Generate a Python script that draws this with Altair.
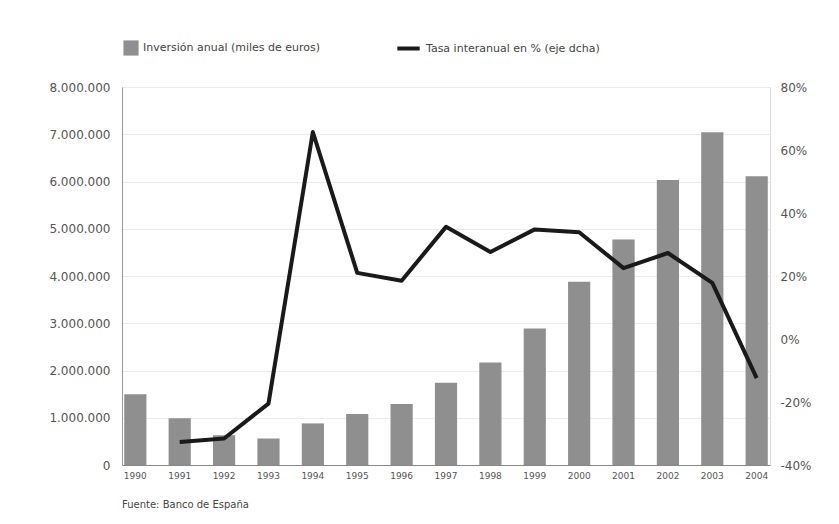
import altair as alt
import pandas as pd

years = ["1990", "1991", "1992", "1993", "1994", "1995", "1996", "1997",
         "1998", "1999", "2000", "2001", "2002", "2003", "2004"]
inversion = [1500000, 990000, 630000, 560000, 880000, 1080000, 1290000, 1740000,
             2170000, 2890000, 3880000, 4770000, 6030000, 7040000, 6110000]
tasa = [None, -32.7, -31.6, -20.5, 65.7, 21.0, 18.5, 35.6,
        27.6, 34.8, 33.9, 22.5, 27.3, 17.8, -12.4]

bar_label = "Inversión anual (miles de euros)"
line_label = "Tasa interanual en % (eje dcha)"
source = "Fuente: Banco de España"

df = pd.DataFrame({"year": years, "inv": inversion, "tasa": tasa,
                   "s1": bar_label, "s2": line_label})

FONT = "DejaVu Sans"
TXT = "#555555"

x = alt.X("year:O", title=None,
          scale=alt.Scale(paddingInner=0.5, paddingOuter=0.05),
          axis=alt.Axis(labelAngle=0, labelFontSize=9, labelColor=TXT, labelFont=FONT,
                        ticks=False, labelPadding=6, domainColor="#888888",
                        domainWidth=1))

bars = alt.Chart(df).mark_bar(color="#8f8f8f").encode(
    x=x,
    y=alt.Y("inv:Q", title=None,
            scale=alt.Scale(domain=[0, 8000000], nice=False),
            axis=alt.Axis(values=[0, 1000000, 2000000, 3000000, 4000000, 5000000,
                                  6000000, 7000000, 8000000],
                          labelExpr="replace(format(datum.value, ','), regexp(',', 'g'), '.')",
                          labelFontSize=12, labelColor=TXT, labelFont=FONT,
                          ticks=False, labelPadding=12, domainColor="#999999",
                          grid=True, gridColor="#ececec")),
    color=alt.Color("s1:N", title=None,
                    scale=alt.Scale(range=["#8f8f8f"]),
                    legend=alt.Legend(orient="none", legendX=1, legendY=-47,
                                      symbolType="square", symbolSize=230,
                                      symbolStrokeWidth=0,
                                      labelFont=FONT, labelFontSize=11,
                                      labelColor="#444444", labelLimit=400)),
)

line = alt.Chart(df).transform_filter("isValid(datum.tasa)").mark_line(
    strokeWidth=4, interpolate="linear", strokeJoin="round"
).encode(
    x=x,
    y=alt.Y("tasa:Q", title=None,
            scale=alt.Scale(domain=[-40, 80], nice=False),
            axis=alt.Axis(orient="right", values=[-40, -20, 0, 20, 40, 60, 80],
                          labelExpr="datum.value + '%'",
                          labelFontSize=12, labelColor=TXT, labelFont=FONT,
                          ticks=False, labelPadding=10, domain=False, grid=False)),
    color=alt.Color("s2:N", title=None,
                    scale=alt.Scale(range=["#1a1a1a"]),
                    legend=alt.Legend(orient="none", legendX=273, legendY=-52,
                                      symbolType="stroke", symbolSize=500,
                                      symbolStrokeWidth=4,
                                      labelFont=FONT, labelFontSize=11,
                                      labelColor="#444444", labelLimit=400)),
)

chart = alt.layer(bars, line).resolve_scale(
    y="independent", color="independent"
).resolve_legend(color="independent").properties(
    width=648, height=378,
    autosize=alt.AutoSizeParams(type="none"),
    padding={"left": 114, "top": 79, "right": 60, "bottom": 50},
    title=alt.TitleParams(source, orient="bottom", anchor="start", frame="group",
                          font=FONT, fontSize=10, fontWeight="normal",
                          color="#444444", offset=20),
).configure_view(stroke=None).configure(background="white")

chart.save("out.html", embed_options={"renderer": "svg", "actions": False})
